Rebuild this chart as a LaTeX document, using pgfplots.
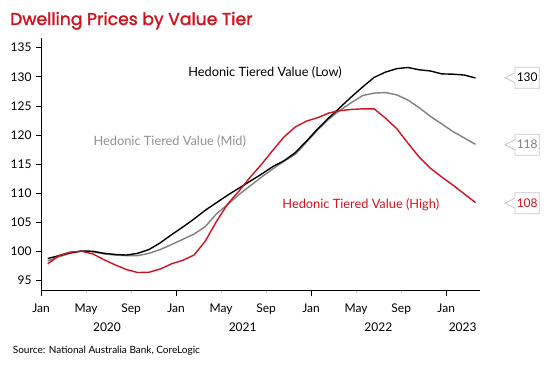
\documentclass[border=0pt]{standalone}
\usepackage{pgfplots}
\pgfplotsset{compat=1.18}
\usepackage{pgfplotstable}
\usepackage{fontspec}
\setmainfont{Lato}
\newfontfamily\titlefont{Poppins}[FakeBold=1.6]
\definecolor{nabred}{RGB}{208,18,30}
\definecolor{midgrey}{RGB}{128,128,128}
\definecolor{labgrey}{RGB}{145,145,145}
\definecolor{boxgrey}{RGB}{200,200,200}

\pgfplotstableread{
x low mid high
0.6 98.8 98.4 97.9
1.6 99.3 99.1 99.3
2.6 99.8 99.7 99.9
3.6 100.1 100.05 100.05
4.6 100.05 99.95 99.6
5.6 99.7 99.6 98.6
6.6 99.5 99.4 97.7
7.6 99.4 99.3 96.9
8.6 99.7 99.3 96.4
9.6 100.35 99.7 96.45
10.6 101.5 100.35 97.0
11.6 102.9 101.2 97.9
12.6 104.2 102.1 98.5
13.6 105.6 103.0 99.4
14.6 107.1 104.3 101.8
15.6 108.4 106.5 105.2
16.6 109.7 108.1 108.2
17.6 110.9 109.8 110.4
18.6 112.1 111.3 112.8
19.6 113.3 112.8 115.0
20.6 114.6 114.2 117.4
21.6 115.6 115.5 119.7
22.6 117.0 116.7 121.4
23.6 119.0 118.8 122.4
24.6 121.1 120.9 123.0
25.6 123.0 122.8 123.8
26.6 124.8 124.3 124.2
27.6 126.6 125.6 124.4
28.6 128.3 126.8 124.5
29.6 129.9 127.2 124.5
30.6 130.8 127.3 122.9
31.6 131.4 126.9 121.1
32.6 131.6 126.0 118.6
33.6 131.2 124.7 116.2
34.6 131.0 123.2 114.3
35.6 130.5 121.9 112.8
36.6 130.45 120.6 111.4
37.6 130.3 119.5 109.9
38.6 129.8 118.4 108.4
}\dwelling

\newcommand\callout[3]{% y (px from top), text, colour
  \draw[boxgrey, line width=0.8pt, fill=white] (505pt,{370pt-#1pt}) -- (515pt,{370pt-#1pt+5pt}) -- (515pt,{370pt-#1pt+10.5pt}) -- (539.3pt,{370pt-#1pt+10.5pt}) -- (539.3pt,{370pt-#1pt-10.5pt}) -- (515pt,{370pt-#1pt-10.5pt}) -- (515pt,{370pt-#1pt-5pt}) -- cycle;
  \node[text=#3, font=\fontsize{12}{14}\selectfont, inner sep=0pt, anchor=center] at (527.2pt,{370pt-#1pt}) {#2};
}

\begin{document}
\begin{tikzpicture}
\useasboundingbox (0,0) rectangle (550pt,370pt);
\begin{axis}[
  at={(41pt,79.3pt)}, anchor=south west,
  scale only axis, width=439pt, height=252.7pt,
  xmin=0, xmax=39, ymin=93.28, ymax=136.66,
  axis x line*=bottom, axis y line*=left,
  axis line style={black, line width=0.8pt, -},
  xtick={0,4,8,12,16,20,24,28,32,36},
  xticklabels={Jan,May,Sep,Jan,May,Sep,Jan,May,Sep,Jan},
  major x tick style={draw=none},
  minor xtick={4,8,16,20,28,32},
  minor x tick style={boxgrey, line width=0.6pt},
  minor tick length=2pt,
  xtick align=outside,
  ytick={95,100,...,135},
  y tick style={black, line width=0.8pt},
  ytick align=outside,
  major tick length=5pt,
  extra x ticks={0,12,24,36},
  extra x tick labels={},
  extra x tick style={major x tick style={draw=black, line width=0.8pt}},
  tick label style={font=\fontsize{12}{14}\selectfont},
  xticklabel style={anchor=base, yshift=-17pt},
  yticklabel style={anchor=east, xshift=-1pt},
  /pgf/number format/assume math mode=true,
  clip=false,
]
\addplot[midgrey, line width=1.4pt] table[x=x, y=mid] {\dwelling};
\addplot[black, line width=1.4pt] table[x=x, y=low] {\dwelling};
\addplot[nabred, line width=1.4pt] table[x=x, y=high] {\dwelling};
\end{axis}
% year labels
\foreach \xx/\yy in {107/2020, 242.7/2021, 378.3/2022, 462.7/2023}
  \node[anchor=base, font=\fontsize{12}{14}\selectfont, inner sep=0pt] at (\xx pt, 38.5pt) {\yy};
% title
\node[anchor=base west, inner sep=0pt, text=nabred, font=\titlefont\fontsize{17.2}{20}\selectfont] at (10pt,345pt) {Dwelling Prices by Value Tier};
% source
\node[anchor=base west, inner sep=0pt, font=\fontsize{10}{12}\selectfont] at (12.7pt,16.7pt) {Source: National Australia Bank, CoreLogic};
% series labels
\node[anchor=center, inner sep=0pt, font=\fontsize{12.8}{14}\selectfont] at (265pt,{370pt-72.3pt}) {Hedonic Tiered Value (Low)};
\node[anchor=center, inner sep=0pt, text=labgrey, font=\fontsize{12.8}{14}\selectfont] at (169.8pt,{370pt-141pt}) {Hedonic Tiered Value (Mid)};
\node[anchor=center, inner sep=0pt, text=nabred, font=\fontsize{12.8}{14}\selectfont] at (360.8pt,{370pt-205pt}) {Hedonic Tiered Value (High)};
% end callouts
\callout{77.7}{130}{black}
\callout{144.7}{118}{midgrey}
\callout{203.3}{108}{nabred}
\end{tikzpicture}
\end{document}
